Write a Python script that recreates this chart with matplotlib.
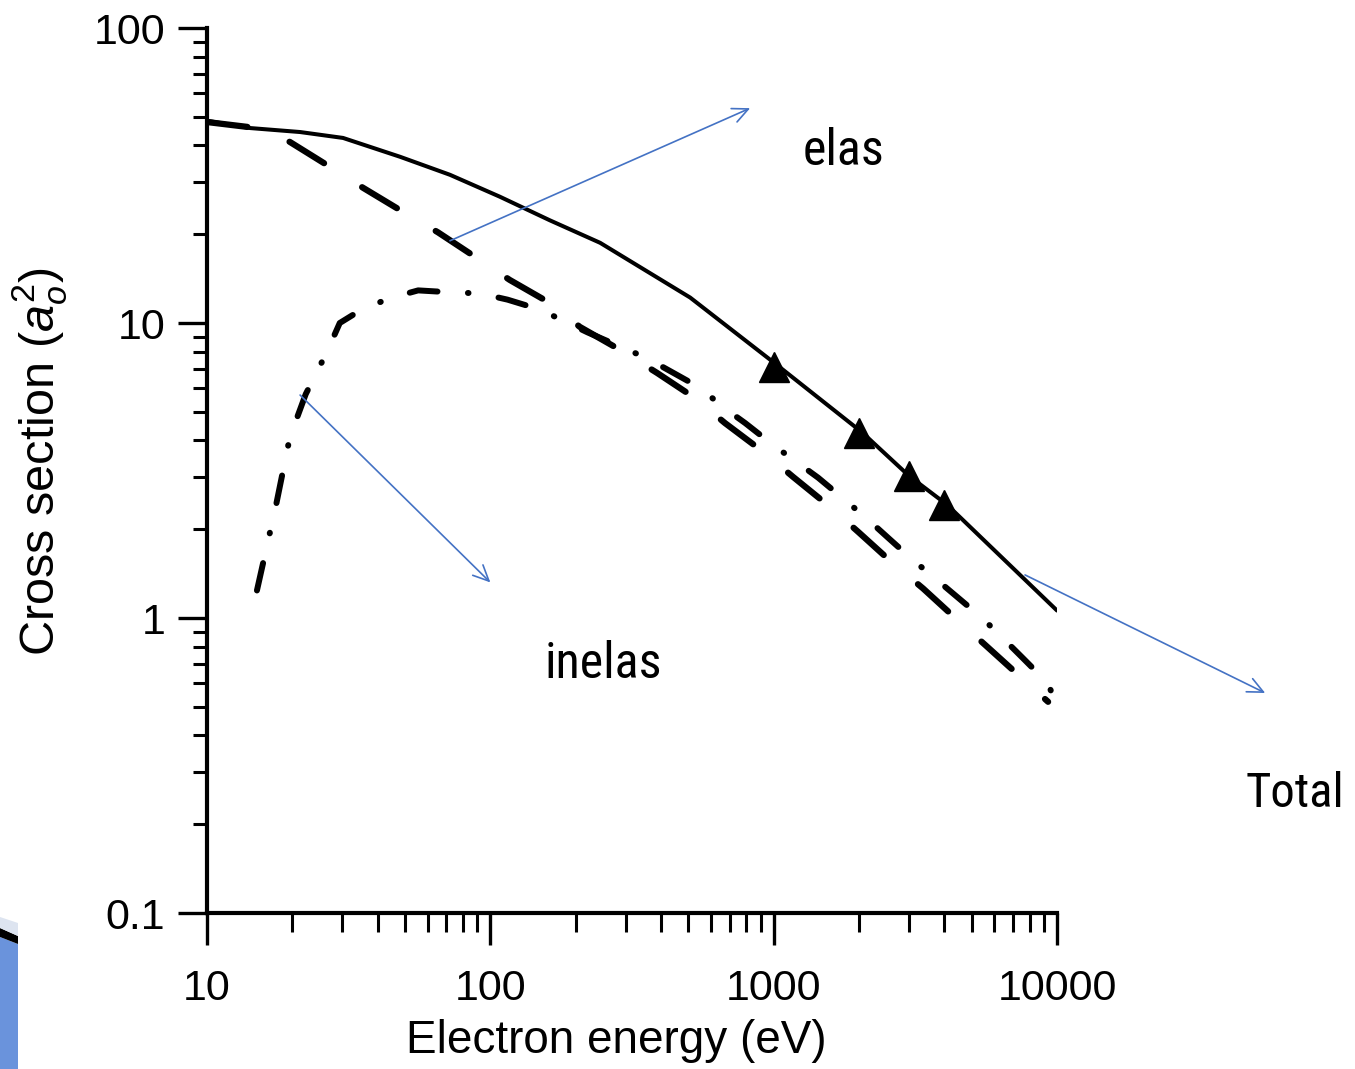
import matplotlib
matplotlib.use("Agg")
import matplotlib.pyplot as plt
from matplotlib.ticker import LogLocator, NullFormatter
from matplotlib.patches import Polygon

plt.rcParams["font.family"] = ["Liberation Sans", "DejaVu Sans"]
plt.rcParams["mathtext.fontset"] = "custom"
plt.rcParams["mathtext.rm"] = "Liberation Sans"
plt.rcParams["mathtext.it"] = "Liberation Sans:italic"

# values (energy in eV, cross section in a0^2)
total_e = [10, 14.2, 21.3, 30.2, 48, 72, 108, 162, 244, 507, 1028, 2050, 3006, 4093, 10000]
total_v = [48.5, 45.8, 44.4, 42.4, 36.6, 31.8, 26.8, 22.3, 18.7, 12.2, 7.2, 4.26, 3.03, 2.42, 1.06]

marker_e = [1000, 2000, 3000, 4000]
marker_v = [7.1, 4.25, 3.02, 2.42]

elas_e = [10, 15, 19.6, 27.2, 35.6, 49.2, 65.3, 89.7, 117, 162, 207, 294, 387, 527,
          673, 918, 1170, 1581, 1986, 2640, 3365, 4477, 5662, 7590, 9300]
elas_v = [48, 45.8, 41.1, 33.8, 28.7, 23.8, 20.3, 16.6, 14.0, 11.7, 9.7, 8.0, 6.78, 5.57,
          4.58, 3.66, 3.01, 2.38, 1.96, 1.53, 1.26, 0.98, 0.80, 0.62, 0.52]

inel_e = [15, 17.5, 19.6, 22.3, 26.5, 29.4, 35.6, 45, 55.6, 73.3, 92, 115, 150, 220,
          357, 442, 550, 662, 793, 995, 1189, 1435, 1786, 2125, 2535, 3105, 3656,
          4436, 5442, 6397, 7590, 9300, 10000]
inel_v = [1.24, 2.4, 4.1, 5.74, 7.98, 10.0, 11.2, 12.2, 12.9, 12.7, 12.6, 12.0, 11.1, 9.3,
          7.6, 6.78, 6.03, 5.19, 4.58, 3.86, 3.41, 2.99, 2.51, 2.18, 1.87, 1.57, 1.38,
          1.18, 1.0, 0.86, 0.73, 0.60, 0.50]

x_ticks = [10, 100, 1000, 10000]
x_labels = ["10", "100", "1000", "10000"]
y_ticks = [0.1, 1, 10, 100]
y_labels = ["0.1", "1", "10", "100"]

fig = plt.figure(figsize=(13.55, 10.69), dpi=100)
ax = fig.add_axes([0.1528, 0.1459, 0.6273, 0.8279])

ax.plot(total_e, total_v, color="black", lw=2.9, solid_capstyle="round")
ax.plot(marker_e, marker_v, ls="none", marker="^", ms=21, color="black")
ax.plot(elas_e, elas_v, color="black", lw=4.5, dash_capstyle="round",
        linestyle=(0, (6.5, 7.2)))
ax.plot(inel_e, inel_v, color="black", lw=4.3, dash_capstyle="round",
        linestyle=(0, (4.7, 5.1, 0.1, 5.1)))

ax.set_xscale("log")
ax.set_yscale("log")
ax.set_xlim(10, 10000)
ax.set_ylim(0.1, 100)

ax.set_xticks(x_ticks)
ax.set_xticklabels(x_labels)
ax.set_yticks(y_ticks)
ax.set_yticklabels(y_labels)
for axis in (ax.xaxis, ax.yaxis):
    axis.set_minor_locator(LogLocator(base=10, subs=range(2, 10), numticks=20))
    axis.set_minor_formatter(NullFormatter())

ax.spines["top"].set_visible(False)
ax.spines["right"].set_visible(False)
ax.spines["left"].set_linewidth(3.0)
ax.spines["bottom"].set_linewidth(3.0)
ax.tick_params(axis="x", which="major", direction="out", length=23, width=2.4,
               labelsize=31, pad=17)
ax.tick_params(axis="x", which="minor", direction="out", length=14, width=2.2)
ax.tick_params(axis="y", which="major", direction="out", length=21, width=2.4,
               labelsize=31, pad=9)
ax.tick_params(axis="y", which="minor", direction="out", length=10, width=2.2)

ax.set_xlabel("Electron energy (eV)", fontsize=33)
ax.xaxis.set_label_coords(0.482, -0.12)
ax.set_ylabel(r"Cross section ($a_o^2$)", fontsize=35)
ax.yaxis.set_label_coords(-0.162, 0.51)

# annotations
arrow_kw = dict(arrowstyle="->,head_length=0.75,head_width=0.35", color="#4472C4",
                lw=1.2, shrinkA=0, shrinkB=0, mutation_scale=15)
ax.annotate("", xy=(826, 53.5), xytext=(72, 19.0), arrowprops=arrow_kw,
            annotation_clip=False)
ax.annotate("", xy=(100, 1.32), xytext=(21.3, 5.7), arrowprops=arrow_kw,
            annotation_clip=False)
ax.annotate("", xy=(54300, 0.557), xytext=(7710, 1.40), arrowprops=arrow_kw,
            annotation_clip=False)

label_font = ["Roboto Condensed", "Noto Sans Condensed", "Open Sans Condensed",
              "Noto Sans", "DejaVu Sans"]
ax.text(1758, 34.4, "elas", fontsize=36, family=label_font, stretch="condensed",
        ha="center", va="baseline")
ax.text(250, 0.627, "inelas", fontsize=36, family=label_font, stretch="condensed",
        ha="center", va="baseline")
ax.text(69000, 0.229, "Total", fontsize=35, family=label_font, stretch="condensed",
        ha="center", va="baseline", clip_on=False)

# bit of slide graphic in lower left corner
fig.patches.append(Polygon([[0, 0], [18, 0], [18, 125], [0, 132]], closed=True,
                           transform=None, facecolor="#6a93dc", edgecolor="none"))
fig.patches.append(Polygon([[0, 132], [18, 125], [18, 133], [0, 141]], closed=True,
                           transform=None, facecolor="black", edgecolor="none"))
fig.patches.append(Polygon([[0, 141], [18, 133], [18, 146], [0, 152]], closed=True,
                           transform=None, facecolor="#dde4f0", edgecolor="none"))

fig.savefig("out.png", dpi=100)
